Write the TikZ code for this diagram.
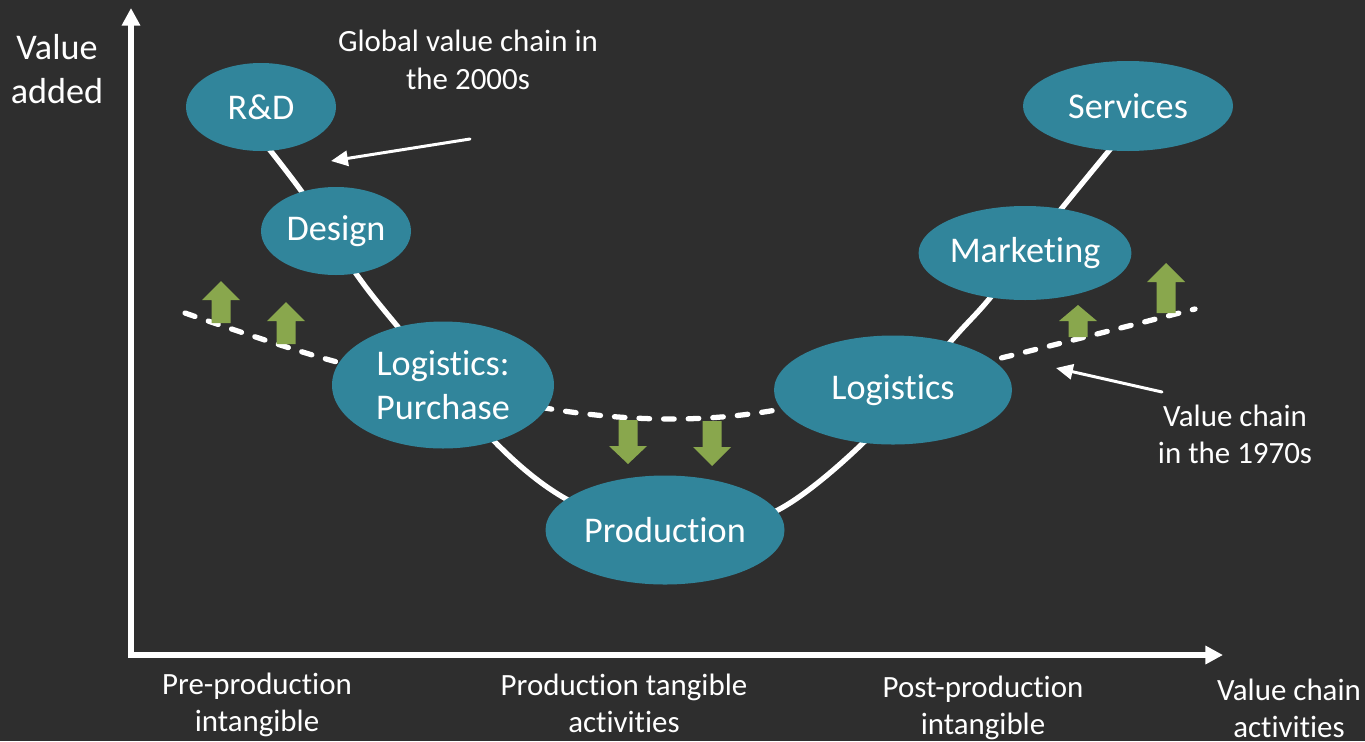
\documentclass[tikz,border=0pt]{standalone}
\usepackage{fontspec}
\setmainfont{Carlito}[Ligatures=NoCommon]
\usetikzlibrary{arrows.meta,shapes.geometric}
\definecolor{board}{RGB}{46,46,46}
\definecolor{bubble}{RGB}{49,133,155}
\definecolor{rise}{RGB}{137,167,77}
\begin{document}
\begin{tikzpicture}[x=0.1mm, y=-0.1mm, line join=round, line cap=round,
	font=\fontsize{10.3}{12.5}\selectfont, text=white,
	bubble/.style={ellipse, fill=bubble, inner sep=0pt, align=center},
	note/.style={align=center, font=\fontsize{8.8}{10.6}\selectfont},
	axis/.style={white, line width=1.5pt, line cap=butt, line join=miter, {Triangle[length=5pt,width=5pt]}-{Triangle[length=5pt,width=5pt]}},
	pointer/.style={white, line width=0.85pt, -{Triangle[length=4.8pt,width=4.3pt]}}]
	\useasboundingbox (0,0) rectangle (1365,741);
	\fill[board] (0,0) rectangle (1365,741);
	\clip (0,0) rectangle (1365,741);
	\path 
	(254,130) coordinate (u1) (302,192) coordinate (u2) (357,275) coordinate (u3)
	(398,327) coordinate (u4) (495,442) coordinate (u5) (568,500) coordinate (u6)
	(672,538) coordinate (u7) (776,511) coordinate (u8) (864,442) coordinate (u9)
	(952,340) coordinate (u10) (990,298) coordinate (u11) (1062,208) coordinate (u12)
	(1126,130) coordinate (u13)
	(185,313) coordinate (d1) (337,362) coordinate (d2) (545,408) coordinate (d3)
	(667,419) coordinate (d4) (782,409) coordinate (d5) (993,360) coordinate (d6)
	(1195,309) coordinate (d7)
	(131,655) coordinate (O) (131,8) coordinate (Y) (1223,655) coordinate (X)
	(470,139) coordinate (g0) (331,161) coordinate (g1)
	(1162,392) coordinate (s0) (1056,368) coordinate (s1)
	;
	% global value chain of the 2000s
	\draw[white, line width=1.5pt] plot[smooth, tension=0.5] coordinates {(u1) (u2) (u3) (u4) (u5) (u6) (u7) (u8) (u9) (u10) (u11) (u12) (u13)};
	% value chain of the 1970s
	\draw[white, line width=1.5pt, dash pattern=on 3pt off 4pt] plot[smooth, tension=0.5] coordinates {(d1) (d2) (d3) (d4) (d5) (d6) (d7)};
	\foreach \x/\ya/\yb/\yc in {221/323/300/281, 286/344/321/302, 628/420/446/464, 712/421/447/466, 1078/337/321/305, 1166/313/282/263}
	\fill[rise] (\x-9.5,\ya) -- (\x-9.5,\yb) -- (\x-19,\yb) -- (\x,\yc) -- (\x+19,\yb) -- (\x+9.5,\yb) -- (\x+9.5,\ya) -- cycle;
	\node[bubble, minimum width=15mm, minimum height=8.8mm] (rd) at (261,107) {R\&D};
	\node[bubble, minimum width=15mm, minimum height=8.8mm] (design) at (336,231) {Design};
	\node[bubble, minimum width=22.2mm, minimum height=12.7mm] (purchase) at (443,385) {Logistics:\\Purchase};
	\node[bubble, minimum width=23.9mm, minimum height=10.9mm] (production) at (665,530) {Production};
	\node[bubble, minimum width=23.8mm, minimum height=10.9mm] (logistics) at (893,390) {Logistics};
	\node[bubble, minimum width=20.4mm, minimum height=9.4mm] (marketing) at (1025,253) {Marketing};
	\node[bubble, minimum width=21mm, minimum height=9mm] (services) at (1128,106) {Services};
	\draw[pointer] (g0) -- (g1);
	\draw[pointer] (s0) -- (s1);
	\draw[axis] (Y) -- (O) -- (X);
	\node[align=center] (vaxis) at (57,69) {Value\\added};
	\node[note] (gvc) at (468,60) {Global value chain in\\the 2000s};
	\node[note] (vc70) at (1235,434) {Value chain\\in the 1970s};
	\node[note] (pre) at (257,705) {Pre-production\\intangible};
	\node[note] (tang) at (624,703) {Production tangible\\activities};
	\node[note] (post) at (983,708) {Post-production\\intangible};
	\node[note] (haxis) at (1289,708) {Value chain\\activities};
\end{tikzpicture}
\end{document}
